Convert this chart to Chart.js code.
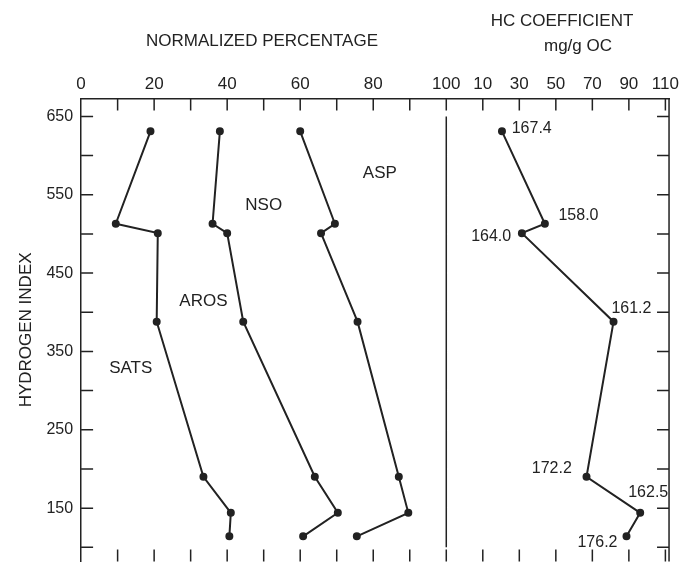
<!DOCTYPE html>
<html>
<head>
<meta charset="utf-8">
<script src="https://cdn.jsdelivr.net/npm/chart.js@4.4.1/dist/chart.umd.min.js"></script>
<style>
  body { margin: 0; background: #fff; overflow: hidden; }
  #wrap { width: 683px; height: 562px; overflow: hidden; }
</style>
</head>
<body>
<div id="wrap"><canvas id="c" width="683" height="579"></canvas></div>
<script>
// hydrogen index of each sample (y axis)
var hydrogenIndex = [631, 513, 501, 388, 190, 144, 114];
// cumulative normalized percentages (boundaries between fractions)
var sats = [19, 9.5, 21, 20.7, 33.5, 41, 40.6];
var satsAros = [38, 36, 40, 44.4, 64, 70.3, 60.8];
var satsArosNso = [60, 69.5, 65.7, 75.7, 87, 89.6, 75.5];
// HC coefficient, mg/g OC (right panel)
var hcCoef = [20.5, 44, 31.4, 81.6, 66.8, 96.2, 88.7];
var hcLabels = ["167.4", "158.0", "164.0", "161.2", "172.2", "162.5", "176.2"];
var hcLabelPos = [[123.4, 635], [136.2, 524], [112.3, 496], [150.7, 405], [128.9, 201], [155.3, 170], [141.4, 106]];
var fractionNames = ["SATS", "AROS", "NSO", "ASP"];
var fractionPos = [[13.6, 328], [33.5, 414], [50, 537], [81.8, 578]];

// right panel shares the x scale: HC value v sits at 100 + (v + 10) / 2
function hcToX(v) { return 100 + (v + 10) / 2; }

function pts(xs) { return xs.map(function (x, i) { return { x: x, y: hydrogenIndex[i] }; }); }

var ink = "#222";
var fam = "'Liberation Sans', Arial, sans-serif";
function line(data) {
  return { data: data, borderColor: ink, backgroundColor: ink, borderWidth: 2,
           pointRadius: 3, pointHoverRadius: 3, tension: 0 };
}

var decor = {
  id: "decor",
  afterDraw: function (chart) {
    var ctx = chart.ctx, x = chart.scales.x, y = chart.scales.y, a = chart.chartArea;
    ctx.save();
    ctx.strokeStyle = ink; ctx.lineWidth = 1.5;
    ctx.beginPath();
    ctx.moveTo(a.right, a.top); ctx.lineTo(a.right, a.bottom);
    ctx.moveTo(x.getPixelForValue(100), y.getPixelForValue(650));
    ctx.lineTo(x.getPixelForValue(100), y.getPixelForValue(100));
    for (var u = 10; u <= 160; u += 10) {
      var px = x.getPixelForValue(u);
      ctx.moveTo(px, a.top); ctx.lineTo(px, a.top + 12);
      ctx.moveTo(px, a.bottom); ctx.lineTo(px, a.bottom - 12);
    }
    for (var h = 100; h <= 650; h += 50) {
      var py = y.getPixelForValue(h);
      ctx.moveTo(a.left, py); ctx.lineTo(a.left + 12, py);
      ctx.moveTo(a.right, py); ctx.lineTo(a.right - 12, py);
    }
    ctx.stroke();
    ctx.fillStyle = ink;
    ctx.font = "17px " + fam;
    ctx.textAlign = "center"; ctx.textBaseline = "middle";
    ctx.fillText("NORMALIZED PERCENTAGE", 262, 41);
    ctx.fillText("HC COEFFICIENT", 562, 21);
    ctx.fillText("mg/g OC", 578, 46);
    fractionNames.forEach(function (n, i) {
      ctx.fillText(n, x.getPixelForValue(fractionPos[i][0]), y.getPixelForValue(fractionPos[i][1]));
    });
    ctx.font = "16px " + fam;
    hcLabels.forEach(function (n, i) {
      ctx.fillText(n, x.getPixelForValue(hcLabelPos[i][0]), y.getPixelForValue(hcLabelPos[i][1]));
    });
    ctx.restore();
  }
};

new Chart(document.getElementById("c"), {
  type: "line",
  data: {
    datasets: [line(pts(sats)), line(pts(satsAros)), line(pts(satsArosNso)),
               line(pts(hcCoef.map(hcToX)))]
  },
  options: {
    responsive: false,
    animation: false,
    layout: { padding: { top: 70, right: 10, bottom: 0, left: 14 } },
    plugins: { legend: { display: false }, tooltip: { enabled: false } },
    scales: {
      x: {
        type: "linear", position: "top", min: 0, max: 161,
        grid: { display: false, drawTicks: false },
        border: { display: true, color: ink, width: 1.5 },
        afterBuildTicks: function (s) {
          s.ticks = [0, 20, 40, 60, 80, 100, 110, 120, 130, 140, 150, 160].map(function (v) { return { value: v }; });
        },
        ticks: {
          color: ink, padding: 4, maxRotation: 0, autoSkip: false,
          font: { size: 17, family: fam },
          callback: function (v) { return v <= 100 ? String(v) : String(2 * (v - 100) - 10); }
        }
      },
      y: {
        type: "linear", min: 82, max: 673,
        grid: { display: false, drawTicks: false },
        border: { display: true, color: ink, width: 1.5 },
        afterBuildTicks: function (s) {
          s.ticks = [150, 250, 350, 450, 550, 650].map(function (v) { return { value: v }; });
        },
        ticks: { color: ink, padding: 8, font: { size: 16, family: fam } },
        title: { display: true, text: "HYDROGEN INDEX", color: ink, padding: 2,
                 font: { size: 17, family: fam } }
      }
    }
  },
  plugins: [decor]
});
</script>
</body>
</html>
